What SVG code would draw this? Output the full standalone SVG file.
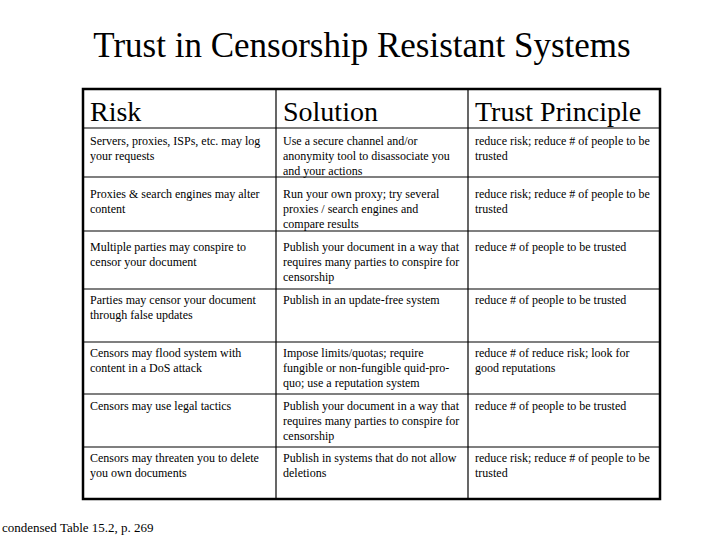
<svg xmlns="http://www.w3.org/2000/svg" width="720" height="540" viewBox="0 0 720 540" font-family="'Liberation Serif', 'Times New Roman', 'DejaVu Serif', serif">
<style>
text{font-family:'Liberation Serif','Times New Roman','DejaVu Serif',serif;fill:#000}
.t{font-size:12px}
.h{font-size:28px}
.ln{stroke:#000;stroke-width:1.2}
</style>
<rect width="720" height="540" fill="#fff"/>
<text x="362" y="57" font-size="35" text-anchor="middle">Trust in Censorship Resistant Systems</text>
<g id="grid">
<rect x="83" y="89" width="577" height="410" fill="none" stroke="#000" stroke-width="2.5"/>
<line class="ln" x1="276" y1="89" x2="276" y2="499"/>
<line class="ln" x1="468" y1="89" x2="468" y2="499"/>
<line class="ln" x1="83" y1="128" x2="660" y2="128"/>
<line class="ln" x1="83" y1="177" x2="660" y2="177"/>
<line class="ln" x1="83" y1="231" x2="660" y2="231"/>
<line class="ln" x1="83" y1="289" x2="660" y2="289"/>
<line class="ln" x1="83" y1="342" x2="660" y2="342"/>
<line class="ln" x1="83" y1="394" x2="660" y2="394"/>
<line class="ln" x1="83" y1="447" x2="660" y2="447"/>
</g>
<g id="header">
<text class="h" x="90" y="121">Risk</text>
<text class="h" x="283" y="121">Solution</text>
<text class="h" x="475" y="121">Trust Principle</text>
</g>
<g id="r1">
<text class="t" x="90" y="145">Servers, proxies, ISPs, etc.  may log</text>
<text class="t" x="90" y="160">your requests</text>
<text class="t" x="283" y="145">Use a secure channel and/or</text>
<text class="t" x="283" y="160">anonymity tool to disassociate you</text>
<text class="t" x="283" y="175">and your actions</text>
<text class="t" x="475" y="145">reduce risk; reduce # of people to be</text>
<text class="t" x="475" y="160">trusted</text>
</g>
<g id="r2">
<text class="t" x="90" y="198">Proxies &amp; search engines may alter</text>
<text class="t" x="90" y="213">content</text>
<text class="t" x="283" y="198">Run your own proxy; try several</text>
<text class="t" x="283" y="213">proxies / search engines and</text>
<text class="t" x="283" y="228">compare results</text>
<text class="t" x="475" y="198">reduce risk; reduce # of people to be</text>
<text class="t" x="475" y="213">trusted</text>
</g>
<g id="r3">
<text class="t" x="90" y="251">Multiple parties may conspire to</text>
<text class="t" x="90" y="266">censor your document</text>
<text class="t" x="283" y="251">Publish your document in a way that</text>
<text class="t" x="283" y="266">requires many parties to conspire for</text>
<text class="t" x="283" y="281">censorship</text>
<text class="t" x="475" y="251">reduce # of people to be trusted</text>
</g>
<g id="r4">
<text class="t" x="90" y="304">Parties may censor your document</text>
<text class="t" x="90" y="319">through false updates</text>
<text class="t" x="283" y="304">Publish in an update-free system</text>
<text class="t" x="475" y="304">reduce # of people to be trusted</text>
</g>
<g id="r5">
<text class="t" x="90" y="357">Censors may flood system with</text>
<text class="t" x="90" y="372">content in a DoS attack</text>
<text class="t" x="283" y="357">Impose limits/quotas; require</text>
<text class="t" x="283" y="372">fungible or non-fungible quid-pro-</text>
<text class="t" x="283" y="387">quo; use a reputation system</text>
<text class="t" x="475" y="357">reduce # of reduce risk; look for</text>
<text class="t" x="475" y="372">good reputations</text>
</g>
<g id="r6">
<text class="t" x="90" y="410">Censors may use legal tactics</text>
<text class="t" x="283" y="410">Publish your document in a way that</text>
<text class="t" x="283" y="425">requires many parties to conspire for</text>
<text class="t" x="283" y="440">censorship</text>
<text class="t" x="475" y="410">reduce # of people to be trusted</text>
</g>
<g id="r7">
<text class="t" x="90" y="462">Censors may threaten you to delete</text>
<text class="t" x="90" y="477">you own documents</text>
<text class="t" x="283" y="462">Publish in systems that do not allow</text>
<text class="t" x="283" y="477">deletions</text>
<text class="t" x="475" y="462">reduce risk; reduce # of people to be</text>
<text class="t" x="475" y="477">trusted</text>
</g>
<text x="2" y="532" font-size="13">condensed Table 15.2, p. 269</text>
</svg>
